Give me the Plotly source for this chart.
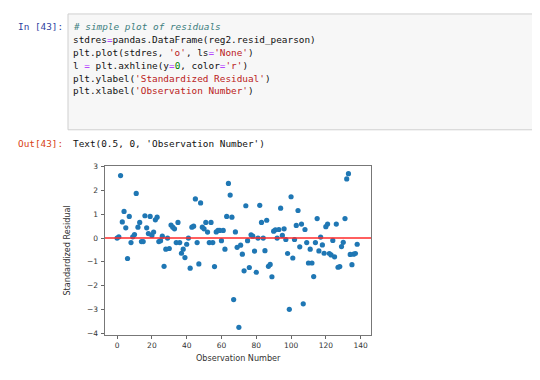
import plotly.graph_objects as go

# Standardized (Pearson) residuals, in observation order
stdres = [
    0.0, 0.05, 2.63, 0.68, 1.12, 0.43, -0.86, 0.91, -0.19, 0.05,
    0.15, 1.88, 0.46, 0.66, -0.15, -0.15, 0.94, 0.43, 0.19, 0.91,
    0.11, 0.25, 0.77, 0.88, -0.15, -0.11, 0.08, -1.19, -0.47, 0.0,
    -0.44, 0.55, 0.46, 0.39, -0.19, 0.66, -0.19, -0.64, -0.47, -0.82,
    -0.26, 0.0, -1.27, 0.46, 0.5, 1.65, -0.19, -1.09, 1.48, 0.46,
    0.39, 0.66, 0.25, -0.19, 0.66, -0.19, -1.2, 0.26, 0.32, 0.32,
    -0.11, 0.32, -0.47, 0.91, 2.3, 1.81, 0.88, -2.59, 0.26, -0.39,
    -3.76, -0.3, -0.68, -1.38, 1.36, -0.11, -1.24, 0.14, 0.08, -0.55,
    -1.44, 0.0, 1.38, 0.66, 0.0, -0.53, 0.75, -1.19, -1.11, -1.63,
    0.29, 0.35, 0.0, 0.36, 1.26, 0.11, 0.39, -0.06, -0.65, -3.0,
    1.74, -0.84, -0.06, 0.53, 1.16, -0.37, 0.59, -2.77, 0.36, -0.19,
    -1.05, -0.47, -1.05, -1.62, -0.19, 0.82, -0.54, 0.04, -0.29, -0.64,
    0.48, 0.59, -0.65, -0.71, -0.1, -0.79, 0.59, -1.23, -1.2, -0.36,
    -0.18, 0.82, 2.49, 2.71, -0.69, -1.12, -0.68, -0.65, -0.26,
]
obs = list(range(len(stdres)))

x_ticks = [0, 20, 40, 60, 80, 100, 120, 140]
y_ticks = [-4, -3, -2, -1, 0, 1, 2, 3]
y_tick_labels = ["\u22124", "\u22123", "\u22122", "\u22121", "0", "1", "2", "3"]

W, H = 540, 380
OFF = 8  # page body margin offset in the browser
MONO = "DejaVu Sans Mono, Liberation Mono, monospace"
SANS = "DejaVu Sans, sans-serif"


def px(x):
    return (x - OFF) / W


def py(y):
    return 1 - (y - OFF) / H


fig = go.Figure()
fig.add_trace(go.Scatter(
    x=obs, y=stdres, mode="markers",
    marker=dict(color="#1f77b4", size=5.2, line=dict(width=0)),
    showlegend=False, hoverinfo="skip",
))
fig.add_hline(y=0, line=dict(color="#ff2a2a", width=1.5), layer="above")

# code cell
fig.add_shape(type="rect", xref="paper", yref="paper",
              x0=px(68), x1=px(570), y0=py(128), y1=py(10),
              fillcolor="#f7f7f7", line=dict(color="#cfcfcf", width=1), layer="below")

S = lambda c, t: f"<span style='color:{c}'>{t}</span>"
OP, STR, NUM, COM = "#AA22FF", "#BA2121", "#008000", "#408080"
code_lines = [
    f"<i>{S(COM, '# simple plot of residuals')}</i>",
    "stdres" + S(OP, "=") + "pandas.DataFrame(reg2.resid_pearson)",
    "plt.plot(stdres, " + S(STR, "'o'") + ", ls" + S(OP, "=") + S(STR, "'None'") + ")",
    "l " + S(OP, "=") + " plt.axhline(y" + S(OP, "=") + S(NUM, "0") + ", color" + S(OP, "=") + S(STR, "'r'") + ")",
    "plt.ylabel(" + S(STR, "'Standardized Residual'") + ")",
    "plt.xlabel(" + S(STR, "'Observation Number'") + ")",
]
ann = []
for i, line in enumerate(code_lines):
    ann.append(dict(x=px(71), y=py(23 + 13.06 * i), xref="paper", yref="paper",
                    text=line, showarrow=False, xanchor="left", yanchor="middle",
                    font=dict(family=MONO, size=9.4, color="#111111")))
ann.append(dict(x=px(16), y=py(23), xref="paper", yref="paper", text="In [43]:",
                showarrow=False, xanchor="left", yanchor="middle",
                font=dict(family=MONO, size=9.4, color="#303F9F")))
ann.append(dict(x=px(16), y=py(142), xref="paper", yref="paper", text="Out[43]:",
                showarrow=False, xanchor="left", yanchor="middle",
                font=dict(family=MONO, size=9.4, color="#D84315")))
ann.append(dict(x=px(71), y=py(142), xref="paper", yref="paper",
                text="Text(0.5, 0, 'Observation Number')",
                showarrow=False, xanchor="left", yanchor="middle",
                font=dict(family=MONO, size=9.4, color="#111111")))
# axis labels
ann.append(dict(x=px(238.5), y=py(360.5), xref="paper", yref="paper", text="Observation Number",
                showarrow=False, xanchor="center", yanchor="middle",
                font=dict(family=SANS, size=8.1, color="#333333")))
ann.append(dict(x=px(67), y=py(251), xref="paper", yref="paper", text="Standardized Residual",
                showarrow=False, xanchor="center", yanchor="middle", textangle=-90,
                font=dict(family=SANS, size=8.1, color="#333333")))

axis_common = dict(showgrid=False, zeroline=False, showline=True, mirror=True,
                   linecolor="#777777", linewidth=1, ticks="outside", ticklen=3.5,
                   tickwidth=0.8, tickcolor="#666666",
                   tickfont=dict(family=SANS, size=7.5, color="#333333"))

fig.update_layout(
    width=W, height=H,
    margin=dict(l=0, r=0, t=0, b=0),
    paper_bgcolor="white", plot_bgcolor="white",
    xaxis=dict(domain=[px(105), px(371)], range=[-6.95, 145.95], ticklabelstandoff=0,
               tickvals=x_ticks, ticktext=[str(v) for v in x_ticks], **axis_common),
    yaxis=dict(domain=[py(337), py(165)], range=[-4.08, 3.03], ticklabelstandoff=1,
               tickvals=y_ticks, ticktext=y_tick_labels, **axis_common),
    annotations=ann,
)

fig.write_html("out.html")
